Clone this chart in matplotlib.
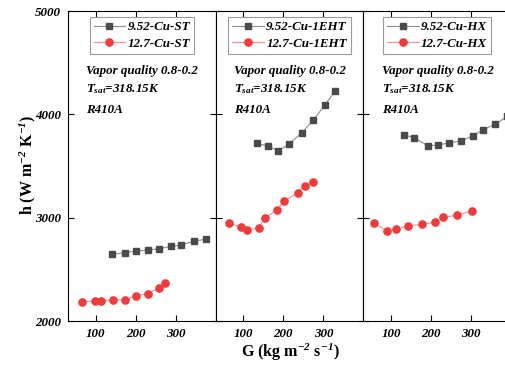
import numpy as np
import matplotlib
matplotlib.use('Agg')
import matplotlib.pyplot as plt

# fonts: Times-like bold italic everywhere
plt.rcParams['font.family'] = 'Liberation Serif'
plt.rcParams['font.weight'] = 'bold'
plt.rcParams['font.style'] = 'italic'
plt.rcParams['mathtext.fontset'] = 'custom'
plt.rcParams['mathtext.rm'] = 'Liberation Serif:bold'
plt.rcParams['mathtext.it'] = 'Liberation Serif:bold:italic'
plt.rcParams['mathtext.bf'] = 'Liberation Serif:bold'

# Data
# panel 1: ST
st_952_G = [142, 173, 201, 231, 258, 288, 314, 345, 375]
st_952_h = [2645, 2661, 2677, 2687, 2700, 2722, 2735, 2774, 2790]
st_127_G = [67, 98, 113, 143, 173, 201, 231, 259, 274]
st_127_h = [2186, 2196, 2193, 2206, 2203, 2245, 2265, 2319, 2368]

# panel 2: 1EHT
eht_952_G = [133, 161, 187, 214, 246, 275, 303, 330]
eht_952_h = [3719, 3693, 3648, 3710, 3822, 3945, 4087, 4229]
eht_127_G = [65, 93, 109, 138, 153, 184, 202, 236, 254, 275]
eht_127_h = [2951, 2906, 2880, 2900, 2996, 3074, 3158, 3242, 3309, 3342]

# panel 3: HX
hx_952_G = [133, 158, 193, 218, 246, 276, 304, 330, 360, 390]
hx_952_h = [3800, 3774, 3693, 3706, 3722, 3745, 3790, 3851, 3903, 3980]
hx_127_G = [58, 89, 113, 143, 178, 210, 229, 265, 303]
hx_127_h = [2945, 2874, 2887, 2922, 2935, 2955, 3003, 3022, 3067]

panels = [
    (st_952_G, st_952_h, st_127_G, st_127_h, '9.52-Cu-ST', '12.7-Cu-ST'),
    (eht_952_G, eht_952_h, eht_127_G, eht_127_h, '9.52-Cu-1EHT', '12.7-Cu-1EHT'),
    (hx_952_G, hx_952_h, hx_127_G, hx_127_h, '9.52-Cu-HX', '12.7-Cu-HX'),
]

fs = 9.4
fig = plt.figure(figsize=(5.05, 3.68), dpi=100)
left = 68 / 505
w = 147.7 / 505
bottom = 1 - 321 / 368
h = (321 - 11) / 368

for i, (g1, h1, g2, h2, lab1, lab2) in enumerate(panels):
    ax = fig.add_axes([left + i * w, bottom, w, h])
    ax.plot(g1, h1, color='#8c8c8c', lw=0.8, marker='s', ms=4.6,
            mfc='#4a4a4a', mec='#4a4a4a', label=lab1)
    ax.plot(g2, h2, color='#f29090', lw=0.8, marker='o', ms=5.2,
            mfc='#ee3b3b', mec='#ee3b3b', label=lab2)
    ax.set_xlim(31, 400)
    ax.set_ylim(2000, 5000)
    ax.set_xticks([100, 200, 300])
    ax.set_yticks([2000, 3000, 4000, 5000])
    ax.tick_params(direction='in', top=True, right=True, length=4.5,
                   width=0.8, labelsize=fs, pad=5)
    if i > 0:
        ax.tick_params(labelleft=False)
    for s in ax.spines.values():
        s.set_linewidth(0.8)
    leg = ax.legend(loc='upper center', bbox_to_anchor=(0.5, 0.98),
                    borderaxespad=0, fontsize=fs, fancybox=False,
                    edgecolor='#9a9a9a', framealpha=1, handlelength=2.4,
                    handletextpad=0.2, borderpad=0.3, labelspacing=0.35)
    leg.get_frame().set_linewidth(0.8)
    ax.text(0.125, 0.806, 'Vapor quality 0.8-0.2', transform=ax.transAxes,
            fontsize=fs, va='center')
    ax.text(0.125, 0.748, '$T_{sat}$=318.15K', transform=ax.transAxes,
            fontsize=fs, va='center')
    ax.text(0.125, 0.681, 'R410A', transform=ax.transAxes,
            fontsize=fs, va='center')

fig.text(290 / 505, 1 - 352 / 368, 'G (kg m$^{-2}$ s$^{-1}$)', ha='center',
         va='center', fontsize=11.5, style='normal')
fig.text(28 / 505, 1 - 165 / 368, 'h (W m$^{-2}$ K$^{-1}$)', ha='center',
         va='center', fontsize=11.5, style='normal', rotation=90)

fig.savefig('out.png', dpi=100)
